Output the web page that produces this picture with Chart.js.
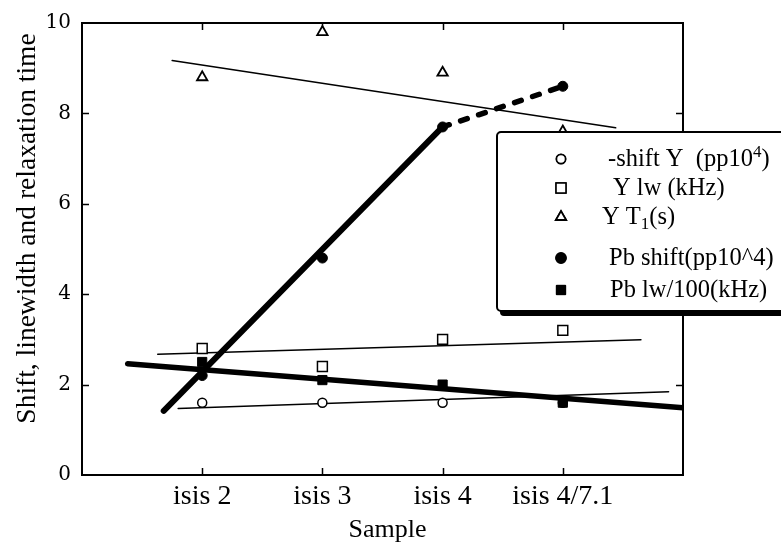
<!DOCTYPE html>
<html>
<head>
<meta charset="utf-8">
<script src="https://cdn.jsdelivr.net/npm/chart.js@4.4.1/dist/chart.umd.min.js"></script>
<style>
  html, body { margin: 0; padding: 0; background: #fff; }
  #wrap { width: 781px; height: 544px; }
</style>
</head>
<body>
<div id="wrap"><canvas id="c" width="781" height="544"></canvas></div>
<script>
// Samples along the x axis and the y tick values
const categories = ['isis 2', 'isis 3', 'isis 4', 'isis 4/7.1'];
const categoryPos = [1, 2, 3, 4];
const yTicks = [0, 2, 4, 6, 8, 10];

// Measured series, one value per sample
const shiftY = [1.6, 1.6, 1.6, 1.6];
const lwY = [2.8, 2.4, 3.0, 3.2];
const t1Y = [8.8, 9.8, 8.9, 7.6];
const shiftPb = [2.2, 4.8, 7.7, 8.6];
const lwPb = [2.5, 2.1, 2.0, 1.6];

// Straight trend lines, [x, y] end points in axis units
const fitShiftY = [[0.8, 1.47], [4.88, 1.84]];
const fitLwY = [[0.63, 2.67], [4.65, 2.99]];
const fitT1Y = [[0.75, 9.17], [4.44, 7.68]];
const fitShiftPb = [[0.68, 1.42], [3.0, 7.7]];
const fitLwPb = [[0.38, 2.46], [5.0, 1.49]];

const seriesNames = ['-shift Y  (pp10\u2074)', 'Y lw (kHz)', 'Y T\u2081(s)', 'Pb shift(pp10^4)', 'Pb lw/100(kHz)'];
const xTitle = 'Sample';
const yTitle = 'Shift, linewidth and relaxation time';

const SERIF = '"Liberation Serif", "Times New Roman", serif';

const toPoints = vals => vals.map((v, i) => ({ x: categoryPos[i], y: v }));
const toLine = pairs => pairs.map(p => ({ x: p[0], y: p[1] }));

// open markers sit under the filled ones
const pointStyles = [
  { pointStyle: 'circle', pointRadius: 4.5, pointBackgroundColor: '#fff', pointBorderWidth: 1.5, order: 1 },
  { pointStyle: 'rect', pointRadius: 7, pointBackgroundColor: '#fff', pointBorderWidth: 1.5, order: 1 },
  { pointStyle: 'triangle', pointRadius: 6, pointBackgroundColor: '#fff', pointBorderWidth: 1.8, order: 1 },
  { pointStyle: 'circle', pointRadius: 5, pointBackgroundColor: '#000', pointBorderWidth: 1, order: 0 },
  { pointStyle: 'rect', pointRadius: 6.5, pointBackgroundColor: '#000', pointBorderWidth: 1, order: 0 }
];

const pointSeries = [shiftY, lwY, t1Y, shiftPb, lwPb].map((vals, i) => Object.assign({
  label: seriesNames[i],
  data: toPoints(vals),
  showLine: false,
  pointBorderColor: '#000',
  pointHoverRadius: 0
}, pointStyles[i]));

const lineDefaults = { showLine: true, pointRadius: 0, borderColor: '#000', borderCapStyle: 'round', order: 2 };
const lineSeries = [
  Object.assign({ data: toLine(fitShiftY), borderWidth: 1.5 }, lineDefaults),
  Object.assign({ data: toLine(fitLwY), borderWidth: 1.5 }, lineDefaults),
  Object.assign({ data: toLine(fitT1Y), borderWidth: 1.5 }, lineDefaults),
  Object.assign({ data: toLine(fitShiftPb), borderWidth: 6 }, lineDefaults),
  Object.assign({ data: toLine(fitLwPb), borderWidth: 5.5 }, lineDefaults),
  Object.assign({ data: toPoints(shiftPb).slice(2), borderWidth: 5.5, borderDash: [7, 12], borderCapStyle: 'butt' }, lineDefaults)
];

// Draws text where unicode super/subscript digits are set small and shifted
function drawRich(ctx, text, x, y, size) {
  const sup = { '\u2074': '4' }, sub = { '\u2081': '1' };
  let cx = x;
  let run = '';
  const flush = () => {
    if (!run) return;
    ctx.font = size + 'px ' + SERIF;
    ctx.fillText(run, cx, y);
    cx += ctx.measureText(run).width;
    run = '';
  };
  for (const ch of text) {
    if (sup[ch] || sub[ch]) {
      flush();
      const s = Math.round(size * 0.7);
      ctx.font = s + 'px ' + SERIF;
      const dy = sup[ch] ? -size * 0.38 : size * 0.22;
      const t = sup[ch] || sub[ch];
      ctx.fillText(t, cx, y + dy);
      cx += ctx.measureText(t).width;
    } else {
      run += ch;
    }
  }
  flush();
}

const decor = {
  id: 'decor',
  beforeDatasetsDraw(chart) {
    const { ctx, chartArea: a, scales: { x, y } } = chart;
    ctx.save();
    ctx.strokeStyle = '#000';
    ctx.lineWidth = 2;
    ctx.strokeRect(a.left, a.top, a.right - a.left, a.bottom - a.top);
    ctx.lineWidth = 1.5;
    ctx.beginPath();
    categoryPos.forEach(v => {
      const px = Math.round(x.getPixelForValue(v)) + 0.5;
      ctx.moveTo(px, a.bottom); ctx.lineTo(px, a.bottom - 7);
      ctx.moveTo(px, a.top); ctx.lineTo(px, a.top + 7);
    });
    yTicks.slice(1, -1).forEach(v => {
      const py = Math.round(y.getPixelForValue(v)) + 0.5;
      ctx.moveTo(a.left, py); ctx.lineTo(a.left + 7, py);
      ctx.moveTo(a.right, py); ctx.lineTo(a.right - 7, py);
    });
    ctx.stroke();

    // axis titles
    ctx.fillStyle = '#000';
    ctx.font = '26px ' + SERIF;
    ctx.textAlign = 'center';
    ctx.textBaseline = 'alphabetic';
    ctx.fillText(xTitle, (a.left + a.right) / 2 + 5, 537);
    ctx.save();
    ctx.translate(35, 228.5);
    ctx.rotate(-Math.PI / 2);
    ctx.font = '27.5px ' + SERIF;
    ctx.fillText(yTitle, 0, 0);
    ctx.restore();
    ctx.restore();
  },
  afterDraw(chart) {
    const { ctx } = chart;
    ctx.save();
    // legend box with a drop shadow
    const bx = 497, by = 132, bw = 320, bh = 179;
    ctx.fillStyle = '#000';
    ctx.beginPath();
    ctx.roundRect(bx + 3, by + 5, bw, bh, 4);
    ctx.fill();
    ctx.fillStyle = '#fff';
    ctx.beginPath();
    ctx.roundRect(bx, by, bw, bh, 4);
    ctx.fill();
    ctx.lineWidth = 2;
    ctx.strokeStyle = '#000';
    ctx.stroke();

    const symY = [159, 188, 217, 258, 290];
    const textX = [608, 613, 602, 609, 610];
    pointSeries.forEach((ds, i) => {
      Chart.helpers.drawPoint(ctx, {
        pointStyle: ds.pointStyle,
        radius: ds.pointRadius,
        borderWidth: ds.pointBorderWidth,
        rotation: 0
      }, 561, symY[i]);
      ctx.fillStyle = ds.pointBackgroundColor;
      ctx.strokeStyle = '#000';
      ctx.lineWidth = ds.pointBorderWidth;
      ctx.fill();
      ctx.stroke();
      ctx.fillStyle = '#000';
      ctx.textAlign = 'left';
      ctx.textBaseline = 'alphabetic';
      drawRich(ctx, ds.label, textX[i], symY[i] + 7, 24.5);
    });
    ctx.restore();
  }
};

new Chart(document.getElementById('c'), {
  type: 'scatter',
  data: { datasets: [...lineSeries, ...pointSeries] },
  options: {
    responsive: false,
    animation: false,
    events: [],
    layout: { padding: { top: 18, right: 98, left: 0, bottom: 0 } },
    plugins: { legend: { display: false }, tooltip: { enabled: false } },
    scales: {
      x: {
        type: 'linear',
        min: 0, max: 5,
        afterFit: s => { s.height = 69; },
        afterBuildTicks: s => { s.ticks = categoryPos.map(v => ({ value: v })); },
        grid: { display: false, drawTicks: false },
        border: { display: false },
        ticks: {
          autoSkip: false,
          maxRotation: 0,
          padding: 5,
          color: '#000',
          font: { family: SERIF, size: 28 },
          callback: v => categories[categoryPos.indexOf(v)] || ''
        }
      },
      y: {
        min: 0, max: 10,
        afterFit: s => { s.width = 82; },
        afterBuildTicks: s => { s.ticks = yTicks.map(v => ({ value: v })); },
        grid: { display: false, drawTicks: false },
        border: { display: false },
        ticks: {
          padding: 11,
          color: '#000',
          font: { family: '"DejaVu Serif", serif', size: 20 }
        }
      }
    }
  },
  plugins: [decor]
});
</script>
</body>
</html>
